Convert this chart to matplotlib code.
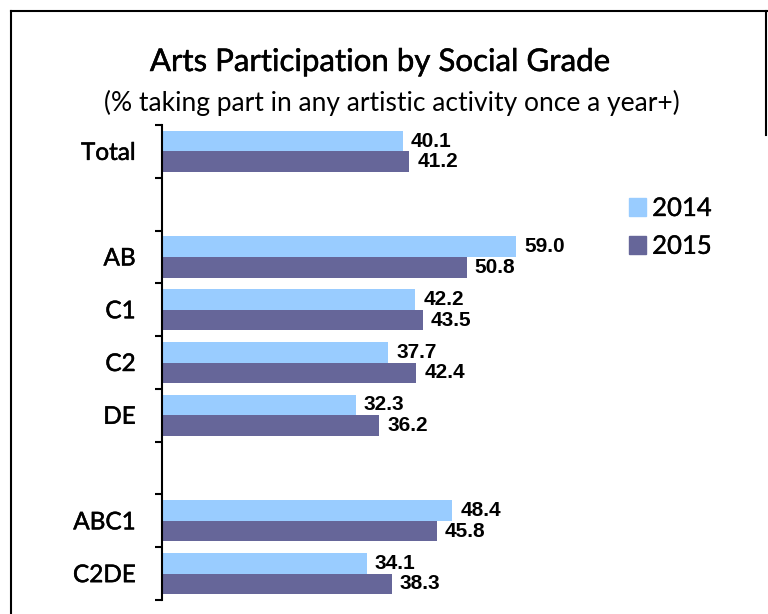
import numpy as np
import matplotlib
matplotlib.use("Agg")
import matplotlib.pyplot as plt
import matplotlib.patheffects as pe
from matplotlib.lines import Line2D
from matplotlib.patches import Patch

# rows from top to bottom, blank strings are spacer rows
groups = ["Total", "", "AB", "C1", "C2", "DE", "", "ABC1", "C2DE"]
vals_2014 = [40.1, np.nan, 59.0, 42.2, 37.7, 32.3, np.nan, 48.4, 34.1]
vals_2015 = [41.2, np.nan, 50.8, 43.5, 42.4, 36.2, np.nan, 45.8, 38.3]
years = ["2014", "2015"]

col_2014 = "#99CCFF"
col_2015 = "#666699"

label_font = "Lato"
num_font = "Liberation Sans"
# thickens regular Lato a little, there is no medium weight installed
heavier = [pe.withStroke(linewidth=0.35, foreground="black")]

W, H = 768, 614
fig = plt.figure(figsize=(W / 100, H / 100), dpi=100)
ax = fig.add_axes([162 / W, 1 - 600 / H, 570 / W, 475 / H])

y = np.arange(len(groups))
bh = 0.39
ax.barh(y - bh / 2, vals_2014, height=bh, color=col_2014, label=years[0])
ax.barh(y + bh / 2, vals_2015, height=bh, color=col_2015, label=years[1])

for vals, off in [(vals_2014, -bh / 2), (vals_2015, bh / 2)]:
    for yi, v in zip(y, vals):
        if np.isnan(v):
            continue
        ax.annotate(f"{v:.1f}", (v, yi + off), xytext=(8, 0),
                    textcoords="offset pixels", va="center", ha="left",
                    fontsize=15, fontweight="bold", family=num_font)

ax.set_xlim(0, 95)
ax.set_ylim(len(groups) - 0.5, -0.5)

ax.set_yticks(y)
ax.set_yticklabels(groups, fontsize=17.5, family=label_font)
for t in ax.get_yticklabels():
    t.set_path_effects(heavier)
ax.set_yticks(np.arange(len(groups) + 1) - 0.5, minor=True)
ax.tick_params(axis="y", which="major", length=0, pad=19)
ax.tick_params(axis="y", which="minor", length=5, width=1.5, direction="out")
ax.set_xticks([])

for s in ["top", "right", "bottom"]:
    ax.spines[s].set_visible(False)
ax.spines["left"].set_linewidth(1.5)

handles = [Patch(color=col_2014, label=years[0]),
           Patch(color=col_2015, label=years[1])]
leg = fig.legend(handles=handles, loc="upper left",
                 bbox_to_anchor=(629 / W, 1 - 196 / H), frameon=False,
                 prop={"family": label_font, "size": 18.5},
                 handlelength=0.68, handleheight=0.68, handletextpad=0.22,
                 labelspacing=0.5, borderpad=0, borderaxespad=0)
for t in leg.get_texts():
    t.set_path_effects([pe.withStroke(linewidth=0.25, foreground="black")])

fig.text(0.495, 1 - 62 / H, "Arts Participation by Social Grade",
         ha="center", va="center", fontsize=22.5, family=label_font,
         path_effects=heavier)
fig.text(0.51, 1 - 103 / H,
         "(% taking part in any artistic activity once a year+)",
         ha="center", va="center", fontsize=19, family=label_font)

# frame around the slide
lw = 1.5
fig.add_artist(Line2D([11 / W, 11 / W], [0, 1 - 11 / H], color="black", lw=lw))
fig.add_artist(Line2D([11 / W, 1], [1 - 11 / H, 1 - 11 / H], color="black", lw=lw))
fig.add_artist(Line2D([766 / W, 766 / W], [1 - 11 / H, 1 - 135 / H],
                      color="black", lw=lw))

fig.savefig("out.png", dpi=100)
